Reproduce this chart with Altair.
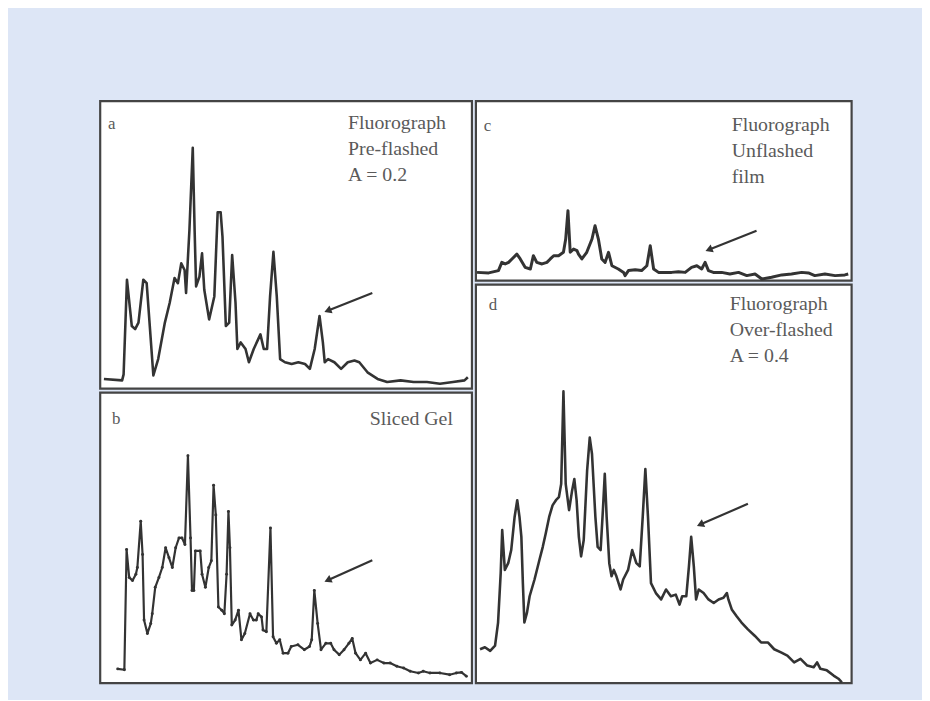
import math
import altair as alt
import pandas as pd

# ---------------- data (relative migration %, relative absorbance %) ----------------
a_x = [1.0, 5.9, 6.3, 7.2, 8.5, 9.4, 10.3, 11.6, 12.5, 13.4, 14.3, 15.6, 17.4, 18.7, 20.0, 20.9, 21.8,
       22.7, 23.1, 24.0, 24.9, 25.4, 25.8, 26.7, 27.4, 28.0, 29.3, 30.7, 31.6, 32.4, 32.9, 33.8, 34.7,
       35.5, 36.4, 36.9, 37.8, 39.1, 40.0, 41.3, 43.1, 44.0, 44.9, 45.7, 46.6, 47.5, 48.4, 49.7, 51.5,
       53.3, 55.1, 56.4, 57.7, 59.0, 59.9, 60.4, 61.3, 63.0, 64.8, 66.6, 68.4, 69.7, 71.9, 74.6, 77.2,
       80.8, 84.3, 87.9, 91.4, 94.9, 98.0, 98.9]
a_y = [3.4, 2.9, 5.0, 37.9, 21.8, 20.7, 23.0, 37.9, 36.7, 20.7, 4.6, 10.3, 23.0, 29.9, 38.5, 36.7, 43.6,
       41.3, 33.3, 55.1, 83.8, 55.1, 35.6, 39.0, 47.1, 34.4, 24.1, 32.1, 61.4, 61.4, 52.8, 21.8, 23.0,
       46.5, 29.9, 13.8, 16.1, 13.8, 9.2, 13.8, 18.9, 13.8, 13.8, 32.1, 47.6, 32.1, 10.3, 9.2, 8.6,
       9.2, 8.6, 6.9, 13.8, 25.3, 16.1, 9.2, 10.3, 9.2, 6.9, 9.2, 9.8, 9.2, 5.7, 3.4, 2.3,
       2.9, 2.3, 2.3, 1.7, 2.3, 2.9, 4.0]

b_x = [4.7, 6.5, 7.1, 7.8, 8.7, 9.6, 10.0, 10.9, 11.4, 11.8, 12.7, 13.6, 14.0, 14.8, 15.8, 16.7, 17.6,
       18.5, 19.4, 20.3, 21.2, 22.0, 22.8, 23.6, 24.3, 24.7, 25.2, 25.6, 26.9, 27.4, 28.3, 29.2, 29.9,
       30.5, 31.1, 31.8, 32.7, 33.4, 34.0, 34.5, 34.9, 35.4, 36.3, 37.2, 38.0, 38.9, 40.3, 41.2, 42.0,
       42.5, 43.4, 43.8, 44.7, 45.8, 46.5, 47.4, 48.3, 49.2, 50.5, 51.4, 53.2, 54.9, 56.3, 56.9, 57.6,
       58.5, 59.4, 60.7, 62.0, 62.9, 64.3, 65.6, 66.9, 67.8, 68.7, 70.0, 71.4, 72.7, 74.5, 76.3, 78.0,
       79.8, 81.6, 83.4, 85.6, 86.9, 88.7, 91.4, 94.0, 95.8, 97.2, 98.5]
b_y = [4.9, 4.6, 46.0, 36.4, 35.3, 37.5, 39.8, 55.7, 44.3, 21.7, 17.1, 20.5, 23.9, 33.0, 36.4, 39.8, 46.6,
       43.2, 39.8, 46.6, 50.0, 50.0, 47.7, 78.3, 50.0, 31.9, 31.9, 45.5, 45.5, 37.5, 33.0, 39.8, 42.1,
       68.1, 57.9, 26.2, 25.1, 23.9, 37.5, 59.1, 46.6, 20.0, 21.7, 25.1, 14.9, 17.1, 23.9, 21.7, 21.7,
       23.9, 22.8, 18.3, 17.7, 53.4, 16.0, 13.7, 14.9, 10.3, 10.3, 12.6, 13.2, 11.5, 12.6, 14.9, 31.9,
       20.5, 11.5, 13.7, 13.7, 11.5, 9.8, 11.5, 13.7, 15.4, 10.3, 8.0, 10.3, 6.9, 8.0, 6.9, 6.9,
       5.8, 5.2, 4.1, 3.5, 4.1, 3.5, 3.5, 2.9, 3.5, 3.7, 2.4]

c_x = [0.3, 3.4, 6.0, 6.9, 7.8, 8.7, 9.6, 10.9, 11.8, 13.1, 14.5, 15.3, 16.2, 17.6, 18.9, 19.8, 20.7,
       22.0, 23.3, 23.9, 24.5, 25.1, 26.0, 26.9, 27.3, 28.2, 29.5, 30.9, 31.7, 32.6, 33.5, 34.4, 35.3,
       36.2, 37.9, 39.3, 39.7, 40.6, 42.4, 44.1, 45.5, 46.4, 47.3, 48.6, 50.4, 52.1, 53.9, 55.7, 57.4,
       58.8, 60.1, 61.0, 61.9, 63.2, 65.4, 67.6, 69.9, 72.1, 74.3, 76.1, 78.7, 81.4, 84.0, 86.7, 88.5,
       90.2, 92.9, 95.6, 98.2, 99.1]
c_y = [4.6, 4.3, 5.6, 10.2, 9.3, 10.2, 12.1, 14.8, 12.1, 7.4, 6.5, 13.9, 10.2, 9.3, 10.2, 12.1, 13.9,
       13.9, 15.8, 23.2, 39.0, 15.8, 17.6, 16.7, 14.8, 12.1, 15.8, 23.2, 30.6, 23.2, 12.1, 10.2, 15.8,
       8.3, 6.5, 4.6, 2.8, 5.6, 6.1, 5.6, 8.3, 19.5, 6.5, 4.6, 4.6, 4.6, 5.0, 4.6, 7.4,
       8.3, 6.5, 10.2, 5.6, 4.6, 4.6, 3.7, 4.6, 2.8, 3.7, 0.9, 1.9, 3.2, 3.7, 4.6, 4.3,
       2.8, 3.7, 2.8, 3.2, 3.7]

d_x = [1.1, 2.4, 3.8, 5.1, 5.9, 6.6, 7.0, 7.7, 8.6, 9.4, 10.3, 11.0, 11.6, 12.1, 12.5, 12.9, 13.6,
       14.3, 15.6, 16.9, 17.8, 18.6, 19.5, 20.4, 21.3, 22.1, 22.7, 23.3, 23.9, 24.8, 25.6, 26.2, 26.8,
       27.4, 28.0, 28.7, 29.6, 30.3, 30.9, 31.8, 32.4, 33.2, 33.8, 34.3, 34.8, 35.5, 36.1, 36.7, 37.4,
       38.5, 39.2, 40.5, 41.6, 42.7, 43.6, 44.4, 45.1, 45.8, 46.6, 47.9, 49.3, 50.6, 51.9, 53.2, 54.2,
       54.9, 56.0, 56.7, 57.3, 58.0, 58.6, 59.3, 60.6, 61.9, 63.3, 64.6, 65.9, 66.8, 67.2, 68.1, 69.4,
       70.7, 72.4, 74.2, 75.9, 77.7, 79.4, 81.2, 82.9, 84.7, 86.4, 88.2, 89.9, 90.8, 91.7, 93.4, 95.2,
       96.5, 97.4]
d_y = [8.5, 9.0, 8.1, 9.4, 15.2, 27.6, 38.4, 28.4, 30.1, 33.4, 41.7, 45.9, 41.7, 36.7, 25.1, 15.2, 17.7,
       21.8, 26.0, 30.9, 34.2, 37.6, 41.7, 44.6, 45.9, 46.7, 50.0, 73.2, 50.0, 43.4, 48.3, 51.2, 45.9,
       36.7, 31.8, 35.9, 53.3, 61.6, 57.5, 41.7, 34.2, 33.4, 43.4, 52.5, 41.7, 30.1, 26.8, 28.4, 26.8,
       23.5, 26.0, 28.4, 33.4, 30.1, 29.3, 41.7, 53.7, 41.7, 25.1, 22.6, 21.0, 23.5, 21.8, 22.2, 19.7,
       21.8, 21.8, 29.3, 36.7, 29.3, 21.0, 23.5, 22.6, 21.0, 20.1, 21.0, 21.4, 22.6, 21.0, 18.5, 16.8,
       15.2, 13.5, 11.9, 10.2, 10.2, 8.5, 7.7, 6.9, 5.2, 6.1, 4.4, 4.0, 5.2, 3.6, 3.2, 1.9,
       1.1, 0.2]

# arrows: tail (x, y) -> head (x, y)
a_arrow = [73.2, 33.3, 61.5, 27.3]
b_arrow = [73.2, 42.3, 61.5, 35.6]
c_arrow = [74.7, 27.8, 62.3, 17.5]
d_arrow = [72.4, 45.0, 60.0, 39.9]

a_letter, a_lines = "a", ["Fluorograph", "Pre-flashed", "A = 0.2"]
b_letter, b_lines = "b", ["Sliced Gel"]
c_letter, c_lines = "c", ["Fluorograph", "Unflashed", "film"]
d_letter, d_lines = "d", ["Fluorograph", "Over-flashed", "A = 0.4"]

# ---------------- styling ----------------
BG = "#dde6f6"
INK = "#333333"
LABEL = "#5a5a5a"
FONT = "Liberation Serif"
FS = 20


def panel(xs, ys, arrow, letter, lines, w, h, letter_pos, text_x, text_y0, dots=False, sw=2.6):
    xsc = alt.Scale(domain=[0, 100], nice=False, zero=False)
    ysc = alt.Scale(domain=[0, 100], nice=False)

    df = pd.DataFrame({"x": xs, "y": ys})
    line_kw = dict(color=INK, strokeWidth=sw, strokeJoin="round", clip=True)
    if dots:
        line_kw["point"] = alt.OverlayMarkDef(size=9, filled=True, color=INK)
    trace = alt.Chart(df).mark_line(**line_kw).encode(
        x=alt.X("x:Q", scale=xsc, axis=None), y=alt.Y("y:Q", scale=ysc, axis=None))

    sdf = pd.DataFrame({"sx": [arrow[0]], "sy": [arrow[1]], "ex": [arrow[2]], "ey": [arrow[3]]})
    shaft = alt.Chart(sdf).mark_rule(color=INK, strokeWidth=2.2).encode(
        x=alt.X("sx:Q", scale=xsc, axis=None), y=alt.Y("sy:Q", scale=ysc, axis=None),
        x2="ex:Q", y2="ey:Q")
    dx = (arrow[2] - arrow[0]) / 100 * w
    dy = -(arrow[3] - arrow[1]) / 100 * h
    ang = round(math.degrees(math.atan2(dx, -dy)) % 360, 1)
    hdf = pd.DataFrame({"hx": [arrow[2]], "hy": [arrow[3]]})
    head = alt.Chart(hdf).mark_point(shape="triangle", filled=True, size=70, color=INK,
                                     opacity=1, angle=ang, strokeWidth=0).encode(
        x=alt.X("hx:Q", scale=xsc, axis=None), y=alt.Y("hy:Q", scale=ysc, axis=None))

    layers = [trace, shaft, head]
    tdf = pd.DataFrame({"k": [0]})
    layers.append(alt.Chart(tdf).mark_text(align="left", baseline="alphabetic", font=FONT,
                                           fontSize=17, color=LABEL).encode(
        x=alt.value(letter_pos[0]), y=alt.value(letter_pos[1]), text=alt.value(letter)))
    for i, t in enumerate(lines):
        layers.append(alt.Chart(tdf).mark_text(align="left", baseline="alphabetic", font=FONT,
                                               fontSize=FS, color=LABEL).encode(
            x=alt.value(text_x), y=alt.value(text_y0 + 26 * i), text=alt.value(t)))
    return alt.layer(*layers).properties(width=w, height=h)


pa = panel(a_x, a_y, a_arrow, a_letter, a_lines, 375, 290, (8, 28), 250, 28)
pb = panel(b_x, b_y, b_arrow, b_letter, b_lines, 375, 293, (12, 32), 272, 33, dots=True, sw=2.2)
pc = panel(c_x, c_y, c_arrow, c_letter, c_lines, 379, 181, (8, 30), 258, 30, sw=3.0)
pd_ = panel(d_x, d_y, d_arrow, d_letter, d_lines, 379, 402, (13, 26), 256, 26)

left = alt.vconcat(pa, pb, spacing=0)
right = alt.vconcat(pc, pd_, spacing=0)

chart = alt.hconcat(left, right, spacing=0).properties(
    padding={"left": 91, "top": 89, "right": 69, "bottom": 12},
    background=BG,
).configure_view(
    fill="white", stroke="#444444", strokeWidth=2.2
).configure_concat(spacing=0)

chart.save("out.html", embed_options={"renderer": "svg", "actions": False})
